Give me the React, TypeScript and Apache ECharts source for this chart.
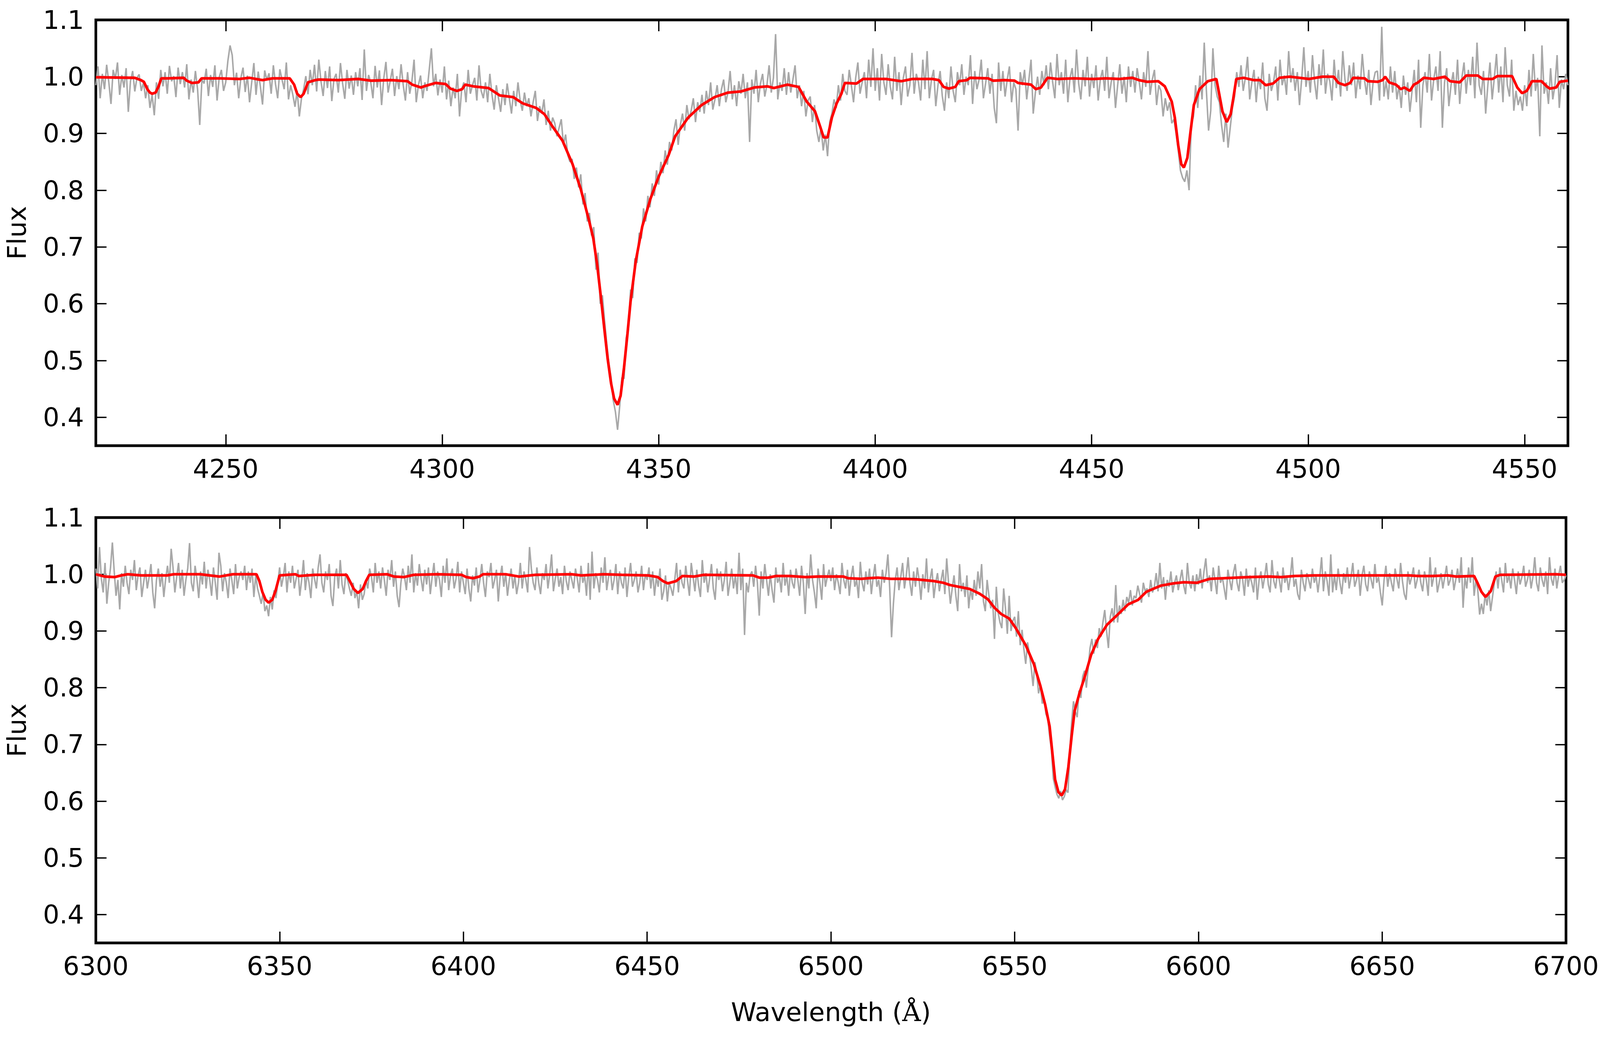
import React, { useEffect, useRef } from "react";
import * as echarts from "echarts";

// Sampling grid of the observed spectra (Angstrom)
const TOP_START = 4220;
const BOT_START = 6300;
const STEP = 0.5;

// Observed (noisy) flux, top panel, 4220–4560 Å every 0.5 Å
const GRAY_TOP = [
  .985,1.018,.962,1.005,.978,1.021,.990,.952,1.012,.996,1.025,.968,1.003,.981,1.015,.938,.992,1.010,.974,.998,
  1.004,.975,.990,.962,.985,.945,.968,.932,.990,.961,1.012,.983,1.008,.970,1.019,.992,1.001,.964,1.016,.987,
  1.008,.981,1.022,.960,.995,.972,1.010,.978,.915,.995,.988,1.014,.966,1.003,.982,1.020,.958,.999,1.012,.975,
  .990,1.028,1.055,1.038,.985,1.007,.962,.998,1.016,.973,1.002,.955,.990,1.024,.968,1.009,.983,.951,1.011,.994,
  1.006,.970,1.020,.987,.962,1.013,.995,.978,1.025,.960,.985,.968,.947,.975,.930,.962,.978,1.001,.969,1.012,
  .985,1.021,.974,1.030,.992,.966,1.010,.980,1.018,.957,.996,1.005,.972,1.024,.988,.961,1.012,.979,1.002,.968,
  1.008,.983,1.015,.959,1.048,.975,1.003,.990,.962,1.019,.981,1.011,.950,.997,1.026,.972,.993,1.014,.966,1.001,
  .978,1.022,.985,.958,1.008,.970,.992,1.030,.955,.985,1.002,.962,.990,.975,1.012,1.050,.983,1.005,.967,.995,
  .972,1.018,.960,.993,.948,.981,.962,1.005,.930,.978,.990,.955,1.012,.970,.985,.998,.958,1.020,.975,.962,
  .990,.955,1.005,.968,.942,.985,.962,.938,.978,.950,.988,.962,.935,.975,.948,.990,.958,.940,.972,.948,
  .962,.930,.955,.975,.922,.948,.935,.960,.915,.940,.905,.928,.918,.895,.910,.925,.880,.898,.862,.850,
  .855,.820,.840,.805,.828,.775,.795,.745,.760,.720,.735,.660,.690,.600,.615,.570,.530,.495,.470,.430,
  .410,.378,.420,.470,.468,.540,.555,.625,.610,.680,.672,.725,.715,.768,.745,.790,.770,.812,.790,.835,
  .810,.850,.830,.870,.845,.885,.870,.905,.925,.880,.915,.935,.905,.950,.925,.940,.962,.920,.955,.938,
  .968,.935,.975,.950,.990,.942,.960,.985,.948,.978,.995,.955,.972,1.010,.960,.985,.948,.992,.970,1.005,
  .962,.990,.885,.995,.970,1.012,.955,.988,1.005,.965,.985,1.020,.972,.998,1.075,.960,.990,.975,1.015,.968,
  1.008,.972,.995,1.020,.962,.985,.948,.975,.930,.958,.965,.920,.950,.905,.885,.910,.870,.898,.860,.920,
  .935,.960,.945,.985,.958,1.005,.975,.968,1.012,.985,.955,.998,1.025,.970,.990,1.008,.962,1.030,.982,1.050,
  .975,1.015,.958,1.040,.990,.968,1.022,.982,.960,1.035,.975,1.008,.950,.998,1.018,.965,.985,1.042,.970,1.005,
  .990,.958,1.030,.978,1.045,.962,.995,1.012,.948,.985,1.010,.966,.940,.990,.962,1.018,.975,.955,1.008,.985,
  1.022,.968,1.000,.985,1.038,.952,1.010,.978,.995,1.030,.962,.988,1.015,.970,1.005,.945,.918,1.025,.975,1.010,
  .965,.995,1.018,.955,.990,.978,.905,1.008,.985,1.012,.960,.995,1.030,.935,.972,1.000,.968,1.010,.985,1.020,
  .978,1.025,.990,.962,1.040,.985,1.008,.970,1.030,.955,.998,1.015,.972,1.048,.988,.960,1.012,.983,1.035,.965,
  1.005,.980,1.020,.958,.995,1.012,.975,1.035,.962,.990,1.008,.945,.985,1.022,.970,1.000,.955,1.018,.982,1.010,
  .972,1.015,.990,.960,1.008,.982,1.045,.968,.995,1.012,.950,.985,.975,.930,.962,.940,.955,.918,.925,.900,
  .870,.835,.822,.815,.835,.800,.915,.930,.985,.945,1.002,.960,1.060,.975,.905,.940,1.050,.985,.965,.955,
  .915,.885,.935,.875,.910,.945,.965,1.008,.982,1.020,.975,.998,1.035,.960,.990,1.012,.955,1.000,.978,1.025,
  .962,.940,1.005,.975,.990,1.018,.958,1.030,.985,1.002,.968,1.045,.990,1.015,.975,1.008,.950,.995,1.052,.982,
  1.010,.972,1.038,.990,.960,1.022,.985,1.048,.970,1.005,.992,.958,1.030,.980,1.012,.965,1.045,.995,.975,1.020,
  .985,1.025,.962,1.002,.978,1.040,.995,.968,1.012,.950,.990,1.008,1.010,.958,1.088,.965,.992,.960,1.018,.972,
  1.010,.960,.985,.945,1.002,.968,.990,.938,.975,1.012,.955,1.030,.910,.985,1.008,.972,1.040,.958,.995,1.018,
  .975,1.045,.910,.990,1.015,.948,.985,1.008,.968,1.030,.952,.998,1.025,.970,1.012,.985,1.035,.962,1.060,.985,
  .968,1.010,.935,.985,1.025,.960,.998,1.040,.972,1.018,.955,1.052,.985,.965,1.030,.940,.975,.950,.965,.940,
  .985,.948,1.012,.965,1.040,.975,.998,.895,1.055,.970,.990,.952,1.015,.960,.985,1.038,.945,.995,.978,1.005,
  .985,
];

// Observed (noisy) flux, bottom panel, 6300–6700 Å every 0.5 Å
const GRAY_BOT = [
  1.010,.975,1.048,.992,.968,1.020,.948,.985,1.012,1.056,1.005,.962,.990,.938,1.002,.978,1.015,.985,.965,1.008,
  .990,1.025,.972,.998,1.012,.960,.985,1.008,.975,.995,1.018,.968,.940,.990,1.010,.978,1.002,.960,.992,1.015,
  .985,1.045,1.012,.968,.995,1.020,.975,1.008,.962,.990,1.010,1.055,.985,.970,1.015,.992,.958,1.005,.982,1.022,
  .975,1.008,.990,.962,1.012,.985,.955,1.038,1.015,.970,1.002,.985,.958,1.010,.990,.965,1.018,.975,.995,1.005,
  .990,1.015,.972,1.005,.985,1.010,.960,.998,.975,.962,.948,.968,.935,.945,.926,.960,.938,.972,.958,.985,
  1.012,.978,.995,1.020,.968,1.005,.985,1.015,.975,.992,1.008,.962,.990,1.025,.972,1.002,.985,.958,1.010,.992,
  .975,1.012,1.035,.985,.968,1.005,.990,1.018,.962,.944,.995,1.010,.975,1.025,.982,.965,1.002,.990,.975,.962,
  .985,.958,.970,.940,.982,.955,.965,.990,.975,1.010,.995,.968,1.020,.985,1.005,.975,1.012,.990,.962,1.008,
  .990,1.025,.978,1.005,.962,.942,.985,1.010,.995,.972,1.015,.985,1.035,.968,1.002,.980,1.018,.992,.970,1.008,
  .982,1.012,.965,.995,1.020,.978,1.005,.990,.960,1.015,.985,1.028,.972,.998,1.010,.975,.992,1.022,.968,1.005,
  .985,.965,1.010,.975,.952,.998,.980,1.012,.968,.990,1.018,.985,.960,1.005,.995,1.020,.975,.990,1.008,.952,
  .995,1.015,.978,1.002,.962,.990,1.010,.975,.998,.965,.985,1.020,.975,1.005,.990,.968,1.048,1.010,.985,.972,
  1.012,.985,.965,1.002,.990,1.018,.975,1.000,1.035,.970,.992,1.010,.978,.995,.965,1.015,.988,.972,1.005,.990,
  .975,1.010,.992,.968,1.015,.985,.998,.962,1.020,.955,1.040,.975,1.002,.990,.968,1.012,.985,1.030,.972,.995,
  1.008,.972,.990,1.018,.965,1.005,.985,.975,1.012,.960,.995,1.020,.978,.990,1.005,.968,.985,1.015,.972,1.000,
  .990,1.012,.975,1.005,.962,.995,.978,1.010,.955,.970,.998,.952,.985,.975,.962,.990,1.020,.968,1.008,.985,
  .975,1.015,.988,.962,1.020,.995,.970,1.008,.980,.960,1.025,.985,1.002,.968,.992,1.018,.975,.955,1.010,.990,
  1.005,.970,.990,1.022,.962,.985,1.010,.975,.998,.965,1.038,.972,1.010,.893,.985,.968,.998,1.005,.978,1.015,
  .985,.927,1.005,.975,1.018,.990,.962,1.000,.972,.950,1.012,.985,.995,.968,1.020,.980,.998,.962,1.008,.985,
  .975,1.010,.990,.962,1.015,.985,.930,1.002,.975,1.035,.990,.968,.940,1.010,.985,.955,1.018,.978,.995,1.008,
  .988,1.012,.972,1.000,.985,.965,1.020,.990,.975,1.008,.962,.995,1.015,.978,.990,.958,1.022,.985,.970,1.005,
  .982,1.010,.965,.995,1.018,.978,.990,.960,1.008,.985,1.002,1.035,.975,.889,.948,.990,1.012,.972,.995,1.020,
  .975,.998,1.030,.985,.962,1.005,.978,1.012,.990,.955,1.000,.975,1.028,.968,.992,1.010,.958,.985,1.002,.970,
  .990,1.008,.965,1.028,.985,.948,.975,.998,.962,.935,1.018,.970,.985,.960,.998,.940,.975,.955,.990,.962,
  1.005,.975,1.018,.952,.935,.990,.962,.940,.955,.886,.978,.932,.915,.905,.975,.940,.895,.962,.900,.918,
  .925,.890,.935,.875,.902,.868,.842,.880,.860,.835,.803,.845,.825,.790,.805,.772,.780,.754,.745,.715,
  .690,.640,.625,.612,.605,.618,.602,.608,.620,.615,.690,.740,.776,.758,.748,.795,.782,.820,.830,.800,
  .835,.870,.886,.860,.885,.870,.905,.890,.915,.937,.900,.870,.925,.940,.915,.981,.915,.945,.930,.955,
  .935,.960,.950,.972,.945,.962,.958,.980,.965,.950,.985,.970,.975,.960,.990,.968,.978,1.002,.970,1.020,
  .975,.995,.955,.990,.978,1.005,.968,.985,.998,.972,.990,1.008,.980,.965,1.020,.985,.975,.998,.970,1.000,
  .982,1.010,.975,1.005,1.028,.985,.998,.970,1.012,.990,.965,1.015,.985,.995,.975,.955,1.008,.990,.972,1.002,
  1.018,.985,.970,1.005,.992,.962,1.010,.978,.998,.985,.968,1.012,.955,.990,1.005,.975,.995,1.020,.982,.968,
  1.025,.988,.975,1.005,.990,.968,1.012,.985,.998,.972,.995,1.030,.978,.992,.965,.955,1.008,.985,.970,1.002,
  .990,.975,1.010,.985,.998,.968,.995,1.030,.970,1.005,.988,.962,1.035,.968,.998,.972,1.010,.985,.965,1.002,
  .985,1.012,.975,.995,1.020,.978,.990,1.008,.962,.998,1.015,.982,.970,1.005,.990,.975,1.018,.985,.995,.968,
  .945,.990,1.015,.978,1.002,.985,.970,1.010,.992,.975,1.020,.988,.965,.955,1.005,.982,.995,1.012,.975,.990,
  1.008,.985,.970,1.005,.990,.962,1.030,.978,.995,1.012,.968,.985,1.002,.975,.995,1.015,.980,.990,1.008,.972,
  .990,1.010,.985,1.030,.941,.995,.975,1.012,.985,1.030,.962,.990,.972,.929,.948,.930,.965,.945,.972,.935,
  .960,.985,1.005,.975,1.012,.990,.968,1.020,.985,.998,.975,1.010,.990,.965,1.005,.982,.995,1.015,.978,.990,
  1.008,.975,.995,1.030,.985,.970,1.012,.990,.978,1.005,.965,1.030,.992,.980,1.010,.975,.998,1.015,.985,.990,
  .998,
];

// Model spectrum [wavelength, flux], top panel
const MODEL_TOP = [
  [4220,.999],[4229,.998],[4230.4,.994],[4231.1,.991],[4231.9,.978],[4232.5,.972],[4233.0,.970],[4233.8,.972],
  [4234.5,.983],[4235.1,.997],[4236.5,.997],[4240.3,.998],[4241.0,.993],[4242.2,.989],[4243.7,.990],[4244.4,.997],
  [4248.6,.997],[4253.2,.996],[4255.5,.998],[4258.5,.994],[4260.8,.997],[4264.8,.997],[4265.8,.986],[4266.5,.970],
  [4267.3,.964],[4268.0,.970],[4269.0,.990],[4270.7,.994],[4271.5,.995],[4276.0,.994],[4280.6,.996],[4283.6,.993],
  [4288.2,.994],[4292.0,.992],[4293.1,.986],[4295.1,.981],[4295.8,.983],[4298.5,.989],[4300.8,.987],[4301.9,.979],
  [4303.4,.975],[4304.6,.978],[4305.3,.986],[4307.2,.983],[4310.7,.980],[4313.3,.967],[4316.4,.964],[4318.6,.953],
  [4321.7,.945],[4323.6,.934],[4325.5,.912],[4327.8,.887],[4330.1,.846],[4332.0,.802],[4333.9,.747],[4334.9,.715],
  [4335.8,.668],[4336.6,.615],[4337.4,.559],[4338.2,.504],[4339.0,.460],[4339.7,.433],[4340.5,.422],[4341.2,.438],
  [4342.0,.488],[4342.8,.548],[4343.5,.604],[4344.7,.675],[4346.2,.736],[4348.1,.785],[4350.0,.824],[4352.3,.862],
  [4353.8,.895],[4356.8,.928],[4359.9,.950],[4362.9,.964],[4366.0,.972],[4369.0,.974],[4372.1,.981],[4375.1,.983],
  [4376.6,.980],[4379.7,.986],[4382.3,.982],[4384.2,.956],[4386.1,.939],[4387.3,.912],[4388.1,.893],[4389.0,.893],
  [4390.0,.928],[4391.1,.953],[4392.2,.970],[4393.0,.989],[4395.7,.988],[4397.2,.996],[4402.5,.996],[4406.0,.992],
  [4408.6,.996],[4413.2,.996],[4414.7,.994],[4415.8,.982],[4417.0,.979],[4418.5,.982],[4419.3,.992],[4421.2,.994],
  [4421.9,.998],[4426.1,.997],[4427.2,.993],[4429.9,.994],[4432.2,.993],[4433.0,.989],[4436.0,.986],[4437.1,.978],
  [4438.3,.981],[4439.8,.998],[4442.1,.996],[4445.9,.997],[4450.5,.996],[4453.3,.997],[4456.4,.996],[4459.4,.998],
  [4460.9,.994],[4462.8,.991],[4465.4,.992],[4466.9,.983],[4468.5,.956],[4469.2,.928],[4470.0,.879],[4470.7,.846],
  [4471.3,.840],[4472.1,.857],[4472.8,.901],[4473.6,.950],[4474.9,.978],[4476.8,.992],[4478.8,.996],[4479.4,.972],
  [4480.2,.939],[4481.2,.920],[4482.1,.934],[4482.7,.961],[4483.4,.996],[4485.1,.998],[4487.4,.994],[4488.9,.994],
  [4490.2,.985],[4491.9,.988],[4493.4,.998],[4495.7,1.0],[4500.2,.996],[4503.3,1.0],[4505.9,1.0],[4507.0,.989],
  [4508.5,.985],[4509.7,.989],[4510.4,.998],[4513.1,.997],[4513.8,.992],[4516.1,.991],[4517.2,.994],[4517.8,1.0],
  [4518.7,.990],[4520.3,.986],[4521.4,.978],[4522.2,.981],[4523.5,.975],[4524.4,.986],[4525.2,.989],[4526.7,.998],
  [4529.0,.996],[4531.6,1.0],[4532.8,.992],[4535.0,.990],[4536.5,1.002],[4539.2,1.002],[4540.3,.996],[4542.6,.996],
  [4543.7,1.001],[4547.1,1.001],[4548.3,.981],[4549.4,.971],[4550.5,.975],[4551.7,.992],[4553.9,.992],[4555.1,.983],
  [4555.8,.979],[4557.3,.981],[4558.1,.991],[4560,.993],
];

// Model spectrum [wavelength, flux], bottom panel
const MODEL_BOT = [
  [6300,1.0],[6302.4,.996],[6305.1,.995],[6306.9,.998],[6308.7,1.0],[6312.3,.998],[6319.4,.998],[6321.2,1.0],
  [6328.4,1.0],[6331.0,.998],[6333.7,.996],[6337.3,1.0],[6343.7,1.0],[6344.5,.988],[6345.3,.969],[6346.2,.955],
  [6347.0,.950],[6348.0,.955],[6348.9,.971],[6350.0,.998],[6354.3,1.0],[6355.2,.997],[6359.7,.999],[6368.2,.999],
  [6369.1,.988],[6370.2,.974],[6371.3,.967],[6372.6,.974],[6373.5,.988],[6374.4,.999],[6379.3,1.0],[6381.1,.996],
  [6383.8,.995],[6386.5,.999],[6392.8,1.0],[6399.5,.999],[6400.8,.995],[6402.6,.993],[6404.4,.996],[6405.3,1.0],
  [6411.5,1.0],[6415.1,.996],[6419.6,.999],[6429.4,1.0],[6432.1,.998],[6438.2,1.0],[6443.1,.999],[6450.3,.998],
  [6452.9,.995],[6454.3,.988],[6455.6,.984],[6457.9,.988],[6459.6,.997],[6462.8,.996],[6465.4,.999],[6478.8,.998],
  [6480.6,.994],[6482.9,.994],[6485.1,.997],[6488.7,.997],[6493.1,.995],[6496.7,.996],[6503.4,.996],[6504.7,.993],
  [6508.3,.992],[6510.1,.993],[6512.8,.994],[6516.3,.992],[6519.9,.992],[6523.5,.991],[6528.0,.988],[6530.6,.985],
  [6532.4,.981],[6537.8,.974],[6540.4,.966],[6542.7,.956],[6544.5,.941],[6546.3,.930],[6548.5,.922],[6550.3,.905],
  [6553.0,.875],[6555.2,.842],[6557.0,.803],[6558.3,.770],[6559.5,.732],[6560.3,.682],[6561.0,.638],[6561.9,.616],
  [6562.8,.610],[6563.7,.621],[6564.6,.660],[6565.5,.715],[6566.3,.759],[6567.7,.792],[6569.0,.818],[6570.8,.858],
  [6572.7,.886],[6575.1,.911],[6577.4,.925],[6580.9,.947],[6583.6,.955],[6585.8,.969],[6589.8,.980],[6593.3,.984],
  [6596.0,.986],[6599.6,.985],[6603.1,.992],[6606.7,.993],[6613.8,.995],[6619.1,.996],[6622.6,.995],[6626.2,.997],
  [6631.5,.998],[6649.3,.998],[6657.3,.998],[6659.9,.997],[6663.5,.997],[6667.9,.998],[6670.2,.996],[6675.0,.997],
  [6675.9,.985],[6677.0,.969],[6678.1,.960],[6679.5,.970],[6680.8,.996],[6682.1,.999],[6697.2,1.0],[6700,.999],
];

// Axis ranges and tick values
const TOP_RANGE = [4220, 4560];
const BOT_RANGE = [6300, 6700];
const Y_RANGE = [0.35, 1.1];
const TOP_X_TICKS = [4250, 4300, 4350, 4400, 4450, 4500, 4550];
const BOT_X_TICKS = [6300, 6350, 6400, 6450, 6500, 6550, 6600, 6650, 6700];
const Y_TICKS = [0.4, 0.5, 0.6, 0.7, 0.8, 0.9, 1.0, 1.1];

const FONT = "DejaVu Sans";
// reference canvas size the layout is designed for
const REF_W = 4341;
const REF_H = 2683;

function buildOption(kx: number, ky: number) {
  const k = Math.sqrt(kx * ky);
  const FS = 68 * k;
  const labelStyle = { fontSize: FS, fontFamily: FONT, color: "#000" };
  const tickStyle = (values: number[], len: number) => ({
    show: true,
    inside: true,
    length: len,
    customValues: values,
    lineStyle: { color: "#000", width: 3.5 * k },
  });

  const makeXAxes = (gridIndex: number, range: number[], ticks: number[], withName: boolean) => [
    {
      type: "value",
      gridIndex,
      position: "bottom",
      min: range[0],
      max: range[1],
      axisLine: { show: false, onZero: false },
      splitLine: { show: false },
      axisTick: tickStyle(ticks, 29 * ky),
      axisLabel: {
        ...labelStyle,
        show: true,
        margin: 26 * ky,
        customValues: ticks,
        formatter: (v: number) => String(Math.round(v)),
      },
      name: withName ? "Wavelength ({s|Å})" : "",
      nameLocation: "middle",
      nameGap: 144 * ky,
      nameTextStyle: {
        ...labelStyle,
        rich: { s: { fontSize: FS, fontFamily: "DejaVu Serif", color: "#000" } },
      },
    },
    {
      type: "value",
      gridIndex,
      position: "top",
      min: range[0],
      max: range[1],
      axisLine: { show: false, onZero: false },
      splitLine: { show: false },
      axisTick: tickStyle(ticks, 29 * ky),
      axisLabel: { show: false },
    },
  ];

  const makeYAxes = (gridIndex: number) => [
    {
      type: "value",
      gridIndex,
      position: "left",
      min: Y_RANGE[0],
      max: Y_RANGE[1],
      axisLine: { show: false, onZero: false },
      splitLine: { show: false },
      axisTick: tickStyle(Y_TICKS, 29 * kx),
      axisLabel: {
        ...labelStyle,
        show: true,
        margin: 32 * kx,
        customValues: Y_TICKS,
        formatter: (v: number) => v.toFixed(1),
      },
      name: "Flux",
      nameLocation: "middle",
      nameGap: 179 * kx,
      nameTextStyle: { ...labelStyle },
    },
    {
      type: "value",
      gridIndex,
      position: "right",
      min: Y_RANGE[0],
      max: Y_RANGE[1],
      axisLine: { show: false, onZero: false },
      splitLine: { show: false },
      axisTick: tickStyle(Y_TICKS, 29 * kx),
      axisLabel: { show: false },
    },
  ];

  const grayTop = GRAY_TOP.map((f, i) => [TOP_START + i * STEP, f]);
  const grayBot = GRAY_BOT.map((f, i) => [BOT_START + i * STEP, f]);

  const gridCommon = {
    show: true,
    borderColor: "#000",
    borderWidth: 7 * k,
    backgroundColor: "transparent",
    containLabel: false,
  };

  const lineSeries = (name: string, axis: number, data: number[][], color: string, width: number, z: number) => ({
    name,
    type: "line",
    xAxisIndex: axis,
    yAxisIndex: axis,
    data,
    symbol: "none",
    silent: true,
    lineStyle: { color, width: width * k },
    z,
  });

  return {
    animation: false,
    backgroundColor: "#fff",
    grid: [
      { ...gridCommon, left: 260 * kx, top: 51 * ky, width: 3994 * kx, height: 1090 * ky },
      { ...gridCommon, left: 260 * kx, top: 1325 * ky, width: 3994 * kx, height: 1089 * ky },
    ],
    xAxis: [
      ...makeXAxes(0, TOP_RANGE, TOP_X_TICKS, false),
      ...makeXAxes(1, BOT_RANGE, BOT_X_TICKS, true),
    ],
    yAxis: [...makeYAxes(0), ...makeYAxes(1)],
    series: [
      lineSeries("observed top", 0, grayTop, "#a8a8a8", 4, 2),
      lineSeries("model top", 0, MODEL_TOP, "#ff0000", 7, 3),
      lineSeries("observed bottom", 2, grayBot, "#a8a8a8", 4, 2),
      lineSeries("model bottom", 2, MODEL_BOT, "#ff0000", 7, 3),
    ],
  };
}

export default function App() {
  const ref = useRef<HTMLDivElement>(null);

  useEffect(() => {
    const el = ref.current;
    if (!el) return;
    const chart = echarts.init(el, undefined, { renderer: "svg" });
    const draw = () => {
      const w = el.clientWidth || window.innerWidth;
      const h = el.clientHeight || window.innerHeight;
      chart.resize();
      chart.setOption(buildOption(w / REF_W, h / REF_H), true);
    };
    draw();
    window.addEventListener("resize", draw);
    return () => {
      window.removeEventListener("resize", draw);
      chart.dispose();
    };
  }, []);

  return (
    <div
      ref={ref}
      style={{
        position: "fixed",
        left: 0,
        top: 0,
        width: "100vw",
        height: "100vh",
        background: "#fff",
        overflow: "hidden",
      }}
    />
  );
}
